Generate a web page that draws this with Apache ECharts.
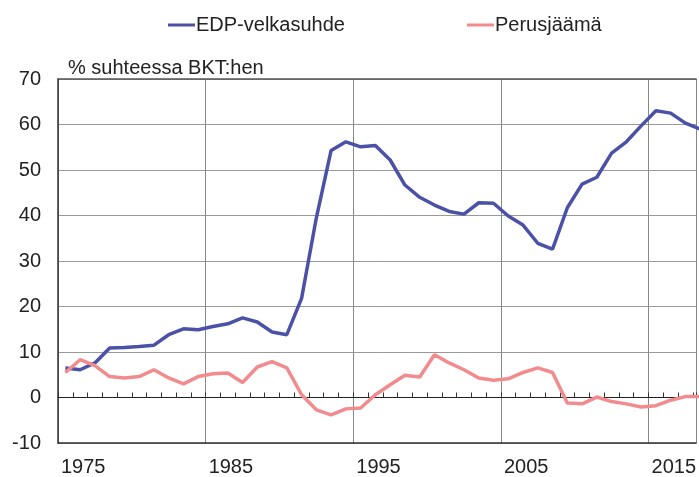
<!DOCTYPE html>
<html>
<head>
<meta charset="utf-8">
<script src="https://cdn.jsdelivr.net/npm/echarts@6/dist/echarts.min.js"></script>
<style>html,body{margin:0;padding:0;background:#fff}#c{width:699px;height:477px}</style>
</head>
<body>
<div id="c"></div>
<script>
var years = [1975,1976,1977,1978,1979,1980,1981,1982,1983,1984,1985,1986,1987,1988,1989,1990,1991,1992,1993,1994,1995,1996,1997,1998,1999,2000,2001,2002,2003,2004,2005,2006,2007,2008,2009,2010,2011,2012,2013,2014,2015,2016,2017,2018];
var velkasuhde = [6.5,6.1,7.6,10.9,11.0,11.2,11.5,13.8,15.1,14.9,15.6,16.2,17.5,16.6,14.4,13.8,21.8,39.5,54.3,56.2,55.1,55.4,52.2,46.7,44.0,42.3,40.9,40.3,42.8,42.7,39.9,37.9,33.9,32.6,41.7,46.9,48.4,53.7,56.2,59.7,63.0,62.5,60.3,59.0];
var perusjaama = [5.5,8.3,7.0,4.6,4.3,4.6,6.1,4.3,3.0,4.6,5.2,5.4,3.3,6.7,7.9,6.5,0.6,-2.7,-3.8,-2.5,-2.3,0.6,2.8,4.9,4.5,9.4,7.6,6.1,4.3,3.8,4.1,5.5,6.5,5.5,-1.2,-1.4,0.1,-0.9,-1.4,-2.1,-1.8,-0.6,0.2,0.2];
var yTicks = {min: -10, max: 70, step: 10};
var xStart = 1974.5, xEnd = 2017.72;

function pairs(vals){ return years.map(function(y,i){ return [y, vals[i]]; }); }

var FONT = "'Liberation Sans', Arial, sans-serif";
var FS = 20;
var chart = echarts.init(document.getElementById('c'), null, {renderer:'canvas'});
chart.setOption({
  animation: false,
  backgroundColor: '#fff',
  textStyle: {fontFamily: FONT},
  title: {
    text: '% suhteessa BKT:hen',
    left: 68, top: 58, padding: 0,
    textStyle: {fontFamily: FONT, fontSize: FS, fontWeight: 'normal', color: '#222'}
  },
  legend: {
    left: 163, top: 10,
    icon: 'rect', itemWidth: 27, itemHeight: 3, itemGap: 122,
    textStyle: {fontFamily: FONT, fontSize: FS, color: '#222', padding: [0,0,0,-4]},
    data: ['EDP-velkasuhde', 'Perusjäämä']
  },
  grid: {left: 58, right: 0, top: 79, bottom: 34, containLabel: false},
  xAxis: [
    {
      type: 'value', min: xStart, max: xEnd, interval: 10, position: 'bottom',
      axisLine: {onZero: false, lineStyle: {color: '#333', width: 1.5}},
      axisTick: {show: false},
      splitLine: {show: true, lineStyle: {color: '#888', width: 1}},
      axisLabel: {
        showMaxLabel: false, align: 'left', margin: 14, padding: [0,0,0,3],
        fontFamily: FONT, fontSize: FS, color: '#222',
        formatter: function(v){ return String(Math.round(v + 0.5)); }
      }
    },
    {
      type: 'value', min: xStart, max: xEnd, interval: 1, position: 'top',
      axisLine: {onZero: true, lineStyle: {color: '#222', width: 1}},
      axisTick: {show: true, inside: false, length: 5, lineStyle: {color: '#333'}},
      splitLine: {show: false},
      axisLabel: {show: false}
    },
    {
      type: 'value', min: xStart, max: xEnd, position: 'top',
      axisLine: {onZero: false, lineStyle: {color: '#555', width: 1.5}},
      axisTick: {show: false}, splitLine: {show: false}, axisLabel: {show: false}
    }
  ],
  yAxis: {
    type: 'value', min: yTicks.min, max: yTicks.max, interval: yTicks.step,
    axisLine: {show: true, onZero: false, lineStyle: {color: '#333', width: 1.5}},
    axisTick: {show: false},
    splitLine: {show: true, lineStyle: {color: '#999', width: 1}},
    axisLabel: {margin: 17, fontFamily: FONT, fontSize: FS, color: '#222'}
  },
  series: [
    {
      name: 'EDP-velkasuhde', type: 'line', xAxisIndex: 0, symbol: 'none',
      data: pairs(velkasuhde), color: '#4a51a6',
      lineStyle: {color: '#4a51a6', width: 3.5}
    },
    {
      name: 'Perusjäämä', type: 'line', xAxisIndex: 0, symbol: 'none',
      data: pairs(perusjaama), color: '#f28b8e',
      lineStyle: {color: '#f28b8e', width: 3.5}
    }
  ]
});
</script>
</body>
</html>
